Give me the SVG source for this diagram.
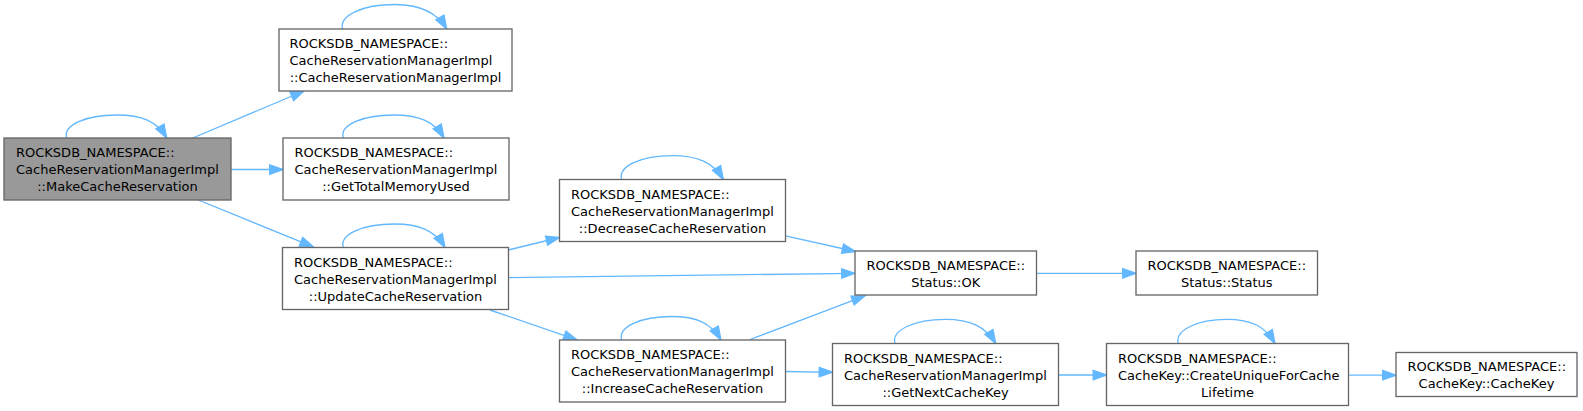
<svg xmlns="http://www.w3.org/2000/svg" width="1583" height="411" viewBox="0 0 1583 411">
<style>
.node rect{fill:#ffffff;stroke:#666666;stroke-width:1.33}
.node.hl rect{fill:#999999}
.node text{font-family:"DejaVu Sans","Liberation Sans",sans-serif;font-size:13px;fill:#000000}
.node text.c{text-anchor:middle}
.edges path{fill:none;stroke:#63b8ff;stroke-width:1.33;marker-end:url(#ah)}
</style>
<defs>
<marker id="ah" markerUnits="userSpaceOnUse" markerWidth="16" markerHeight="12" viewBox="-1 -6 16 12" refX="13.3" refY="0" orient="auto" overflow="visible">
<path d="M0,-4.7 L13.3,0 L0,4.7 z" fill="#63b8ff" stroke="#63b8ff" stroke-width="1.33"/>
</marker>
</defs>
<rect x="0" y="0" width="1583" height="411" fill="#ffffff"/>
<g class="edges" id="edges">
<path d="M66.7,138 C62.7,125 85.7,115 116.7,115 C141.7,115 156.7,121 166.7,138"/>
<path d="M342.7,29 C338.7,16 361.7,4.5 394.7,4.5 C419.7,4.5 436.7,12 446.7,29"/>
<path d="M343.3,138 C339.3,125 362.3,115 393.7,115 C418.7,115 434,121 444,138"/>
<path d="M343.3,247.5 C339.3,234.5 362.3,224 394.2,224 C419.2,224 435,230.5 445,247.5"/>
<path d="M621.7,179.5 C617.7,166.5 640.7,155.7 672.5,155.7 C697.5,155.7 713.3,162.5 723.3,179.5"/>
<path d="M621.7,340 C617.7,327 640.7,316.5 671.5,316.5 C696.5,316.5 711,323 721,340"/>
<path d="M895,343.5 C891,330.5 914,319.3 945.3,319.3 C970.3,319.3 985.7,326.5 995.7,343.5"/>
<path d="M1178.3,343.5 C1174.3,330.5 1197.3,319.3 1226.7,319.3 C1251.7,319.3 1265,326.5 1275,343.5"/>
<path d="M192.7,138 L304,91"/>
<path d="M231,169.5 L283,169.5"/>
<path d="M198.3,200 L313.3,246.8"/>
<path d="M508.3,250 L559.5,237.5"/>
<path d="M508.3,277.7 L855,273.3"/>
<path d="M490,310 L577,339.8"/>
<path d="M785.5,235.8 L855.5,251.5"/>
<path d="M750,339.5 L865,295.8"/>
<path d="M785.7,371.5 L832.5,372.3"/>
<path d="M1036.5,273.3 L1136,273.3"/>
<path d="M1058.3,375 L1106.5,375"/>
<path d="M1348.3,375.2 L1396,375.2"/>
</g>
<g class="node hl" id="node_make">
<rect x="4" y="138" width="227" height="62"/>
<text x="16" y="157">ROCKSDB_NAMESPACE::</text>
<text x="16" y="174">CacheReservationManagerImpl</text>
<text class="c" x="117.5" y="191">::MakeCacheReservation</text>
</g>
<g class="node" id="node_ctor">
<rect x="279" y="29" width="233" height="62"/>
<text x="289.5" y="48">ROCKSDB_NAMESPACE::</text>
<text x="289.5" y="65">CacheReservationManagerImpl</text>
<text class="c" x="395.5" y="82">::CacheReservationManagerImpl</text>
</g>
<g class="node" id="node_gettotal">
<rect x="283" y="138" width="226" height="62"/>
<text x="294.5" y="157">ROCKSDB_NAMESPACE::</text>
<text x="294.5" y="174">CacheReservationManagerImpl</text>
<text class="c" x="396" y="191">::GetTotalMemoryUsed</text>
</g>
<g class="node" id="node_update">
<rect x="282.5" y="247.5" width="226" height="62"/>
<text x="294" y="266.5">ROCKSDB_NAMESPACE::</text>
<text x="294" y="283.5">CacheReservationManagerImpl</text>
<text class="c" x="395.5" y="300.5">::UpdateCacheReservation</text>
</g>
<g class="node" id="node_decrease">
<rect x="559.5" y="179.5" width="226" height="62"/>
<text x="571" y="198.5">ROCKSDB_NAMESPACE::</text>
<text x="571" y="215.5">CacheReservationManagerImpl</text>
<text class="c" x="672.5" y="232.5">::DecreaseCacheReservation</text>
</g>
<g class="node" id="node_increase">
<rect x="559.5" y="340" width="226" height="62"/>
<text x="571" y="359">ROCKSDB_NAMESPACE::</text>
<text x="571" y="376">CacheReservationManagerImpl</text>
<text class="c" x="672.5" y="393">::IncreaseCacheReservation</text>
</g>
<g class="node" id="node_ok">
<rect x="855" y="251" width="181.5" height="44"/>
<text x="866.5" y="269.5">ROCKSDB_NAMESPACE::</text>
<text class="c" x="945.75" y="286.5">Status::OK</text>
</g>
<g class="node" id="node_status">
<rect x="1136" y="251" width="181.5" height="44"/>
<text x="1147.5" y="269.5">ROCKSDB_NAMESPACE::</text>
<text class="c" x="1226.75" y="286.5">Status::Status</text>
</g>
<g class="node" id="node_getnext">
<rect x="832.5" y="343.5" width="226" height="62"/>
<text x="844" y="362.5">ROCKSDB_NAMESPACE::</text>
<text x="844" y="379.5">CacheReservationManagerImpl</text>
<text class="c" x="945.5" y="396.5">::GetNextCacheKey</text>
</g>
<g class="node" id="node_createunique">
<rect x="1106.5" y="343.5" width="242" height="62"/>
<text x="1118" y="362.5">ROCKSDB_NAMESPACE::</text>
<text x="1118" y="379.5">CacheKey::CreateUniqueForCache</text>
<text class="c" x="1227.5" y="396.5">Lifetime</text>
</g>
<g class="node" id="node_cachekey">
<rect x="1396" y="352.5" width="181" height="44"/>
<text x="1407.5" y="371">ROCKSDB_NAMESPACE::</text>
<text class="c" x="1486.5" y="388">CacheKey::CacheKey</text>
</g>
</svg>
